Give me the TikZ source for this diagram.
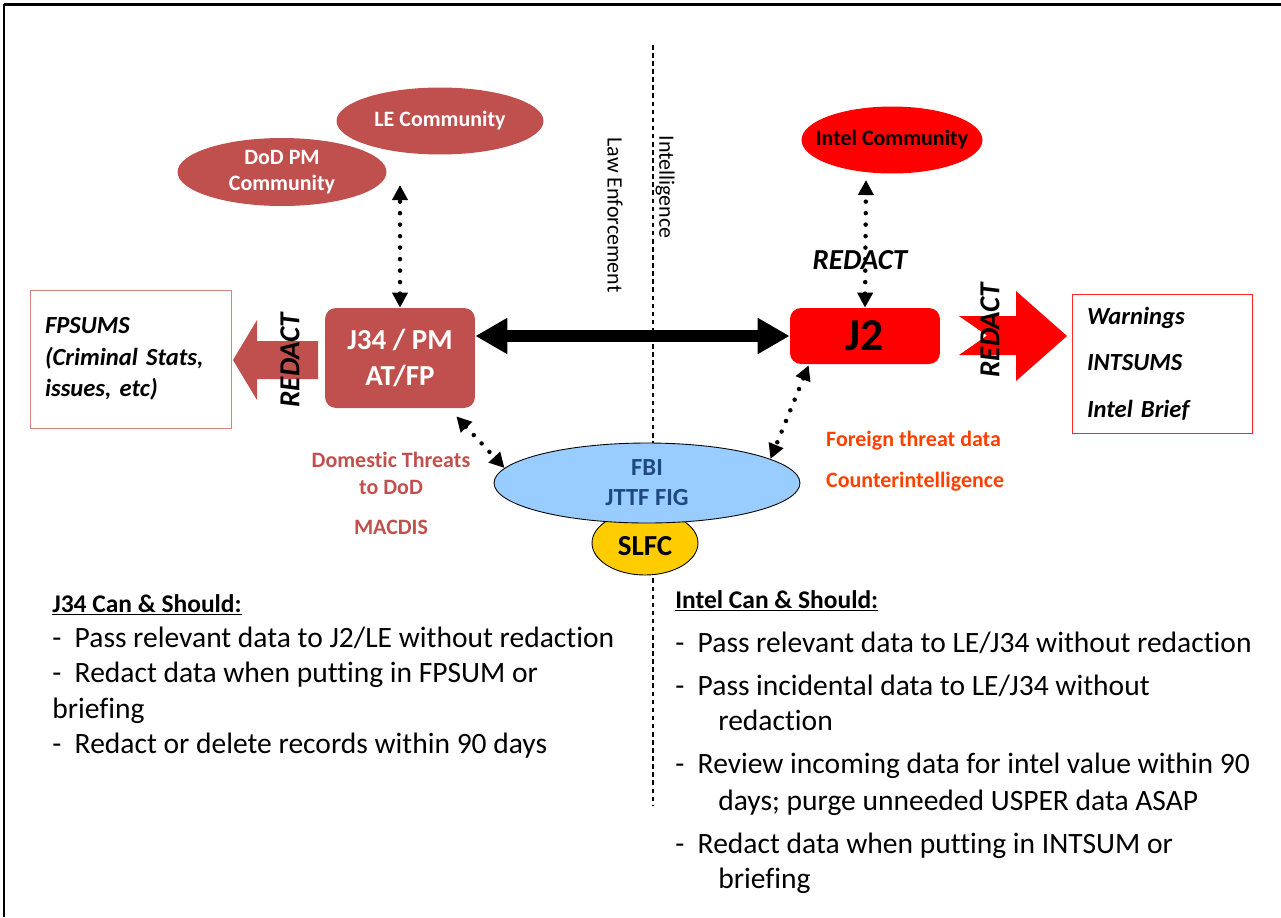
\documentclass[tikz,border=0pt]{standalone}
\usepackage{fontspec}
\setmainfont{Carlito}[Ligatures=NoCommon]
\usetikzlibrary{positioning, shapes.geometric, arrows.meta}

\definecolor{dodred}{RGB}{192,80,77}
\definecolor{fbiblue}{RGB}{153,204,255}
\definecolor{fbitext}{RGB}{31,73,125}
\definecolor{slfcyellow}{RGB}{255,204,0}
\definecolor{foreign}{RGB}{255,64,0}

\begin{document}
\begin{tikzpicture}[
    x=0.02cm, y=-0.02cm,
    community/.style={ellipse, inner sep=0pt, align=center,
      font=\fontsize{12.5}{15}\selectfont\bfseries},
    office/.style={rounded corners=0.22cm, inner sep=0pt, minimum width=3cm, align=center,
      font=\bfseries},
    report/.style={draw, inner xsep=0.3cm, align=left, font=\bfseries\itshape},
    dotlink/.style={{Triangle[length=0.3cm,width=0.3cm]}-{Triangle[length=0.3cm,width=0.3cm]},
      line width=0.09cm, line cap=round, dash pattern=on 0pt off 0.23cm},
    biglink/.style={{Triangle[length=0.64cm,width=0.68cm]}-{Triangle[length=0.64cm,width=0.68cm]},
      line width=0.24cm},
    redact/.style={font=\fontsize{16.5}{18}\selectfont\bfseries\itshape},
    side/.style={font=\fontsize{12.5}{14}\selectfont, rotate=-90},
    note/.style={font=\fontsize{12.5}{15}\selectfont\bfseries, align=center},
    listline/.style={anchor=base west, inner sep=0pt, font=\fontsize{16.8}{19}\selectfont},
    listhead/.style={listline, font=\fontsize{14.5}{17}\selectfont\bfseries}
  ]
  \useasboundingbox (0,0) rectangle (1281,917);

  % --- slide frame and divider ---
  \draw[line width=0.06cm] (4,4) -- (1281,4);
  \draw[line width=0.045cm] (4,4) -- (4,917);
  \draw[dash pattern=on 2.6pt off 2pt, line width=0.6pt] (653,45) -- (653,805);
  \node[side] (lawenf) at (615,215) {Law Enforcement};
  \node[side] (intel) at (665,187) {Intelligence};

  % --- law enforcement side ---
  \node[community, fill=dodred, text=white, minimum width=4.14cm, minimum height=1.34cm]
    (lecom) at (440,121) {LE Community};
  \node[community, fill=dodred, text=white, minimum width=4.18cm, minimum height=1.36cm]
    (dodcom) at (282,172) {DoD PM\\Community};
  \node[office, fill=dodred, text=white, minimum height=2cm,
        font=\fontsize{16.5}{20.5}\selectfont\bfseries] (j34) at (400,358) {J34 / PM\\AT/FP};
  \node[report, draw=dodred!70, text width=3.42cm, minimum height=2.76cm,
        font=\fontsize{14}{18}\selectfont\bfseries\itshape] (fpsums) at (130.5,359)
    {FPSUMS\\(Criminal Stats,\\issues, etc)};
  \fill[dodred] (318,341) -- (257,341) -- (257,320) -- (233,360) -- (257,400) -- (257,379)
    -- (318,379) -- cycle;
  \node[redact, rotate=90] (redactl) at (290,360) {REDACT};
  \coordinate (pmtop) at (400,185);
  \draw[dotlink] (j34.north) -- (pmtop);

  % --- intelligence side ---
  \node[community, fill=red, text=black, inner xsep=-0.26cm, minimum width=3.62cm,
        minimum height=1.34cm] (intelcom) at (892,140) {Intel Community};
  \node[office, fill=red, text=black, minimum height=1.12cm,
        font=\fontsize{26}{28}\selectfont\bfseries] (j2) at (865,336) {J2};
  \node[report, draw=red!85, text width=3cm, minimum height=2.78cm,
        font=\fontsize{14}{26.5}\selectfont\bfseries\itshape] (intsums) at (1162,363.5)
    {Warnings\\INTSUMS\\Intel Brief};
  \fill[red] (959,316) -- (1016,316) -- (1016,291) -- (1067,336) -- (1016,381) -- (1016,355)
    -- (959,355) -- (987,335.5) -- cycle;
  \node[redact, rotate=90] (redactr) at (990,330) {REDACT};
  \node[redact] (redactic) at (860,260) {REDACT};
  \coordinate (ictop) at (866,180);
  \draw[dotlink] (j2.north) -- (ictop);

  % --- shared between both ---
  \draw[biglink] (j34.east |- j2.west) -- (j2.west);
  \node[ellipse, draw, fill=slfcyellow, line width=0.5pt, minimum width=2.12cm,
        minimum height=1.28cm, inner sep=0pt] (slfc) at (645,543) {};
  \node[ellipse, draw, fill=fbiblue, line width=0.5pt, minimum width=6.12cm,
        minimum height=1.6cm, inner sep=0pt, text=fbitext, align=center,
        font=\fontsize{14}{17}\selectfont\bfseries] (fbi) at (647,483) {FBI\\JTTF FIG};
  \node[font=\fontsize{16.5}{18}\selectfont\bfseries] (slfclabel) at (645,546) {SLFC};
  \draw[dotlink] ([xshift=-0.38cm,yshift=-0.16cm]j34.south east) -- (fbi.174);
  \draw[dotlink] ([xshift=0.38cm,yshift=-0.02cm]j2.south west) -- (fbi.11);

  \node[note, text=dodred, font=\fontsize{12.5}{15.4}\selectfont\bfseries]
    (domestic) at (391,473) {Domestic Threats\\to DoD};
  \node[note, text=dodred] (macdis) at (391,527) {MACDIS};
  \node[note, text=foreign, align=left, anchor=west,
        font=\fontsize{12.5}{23}\selectfont\bfseries] (foreign) at (820,461)
    {Foreign threat data\\Counterintelligence};

  % --- what each side can and should do ---
  \node[listhead] (lefth) at (52,612) {\underline{J34 Can \& Should:}};
  \foreach \n/\x/\y/\t in {
      1/52/647/{-\ \ Pass relevant data to J2/LE without redaction},
      2/52/682/{-\ \ Redact data when putting in FPSUM or},
      3/52/718/{briefing},
      4/52/753/{-\ \ Redact or delete records within 90 days}} {
    \node[listline] (left\n) at (\x,\y) {\t};
  }
  \node[listhead] (righth) at (675,608) {\underline{Intel Can \& Should:}};
  \foreach \n/\x/\y/\t in {
      1/675/652/{-\ \ Pass relevant data to LE/J34 without redaction},
      2/675/695/{-\ \ Pass incidental data to LE/J34 without},
      3/718/730/{redaction},
      4/675/773/{-\ \ Review incoming data for intel value within 90},
      5/718/810/{days; purge unneeded USPER data ASAP},
      6/675/853/{-\ \ Redact data when putting in INTSUM or},
      7/718/888/{briefing}} {
    \node[listline] (right\n) at (\x,\y) {\t};
  }
\end{tikzpicture}
\end{document}
